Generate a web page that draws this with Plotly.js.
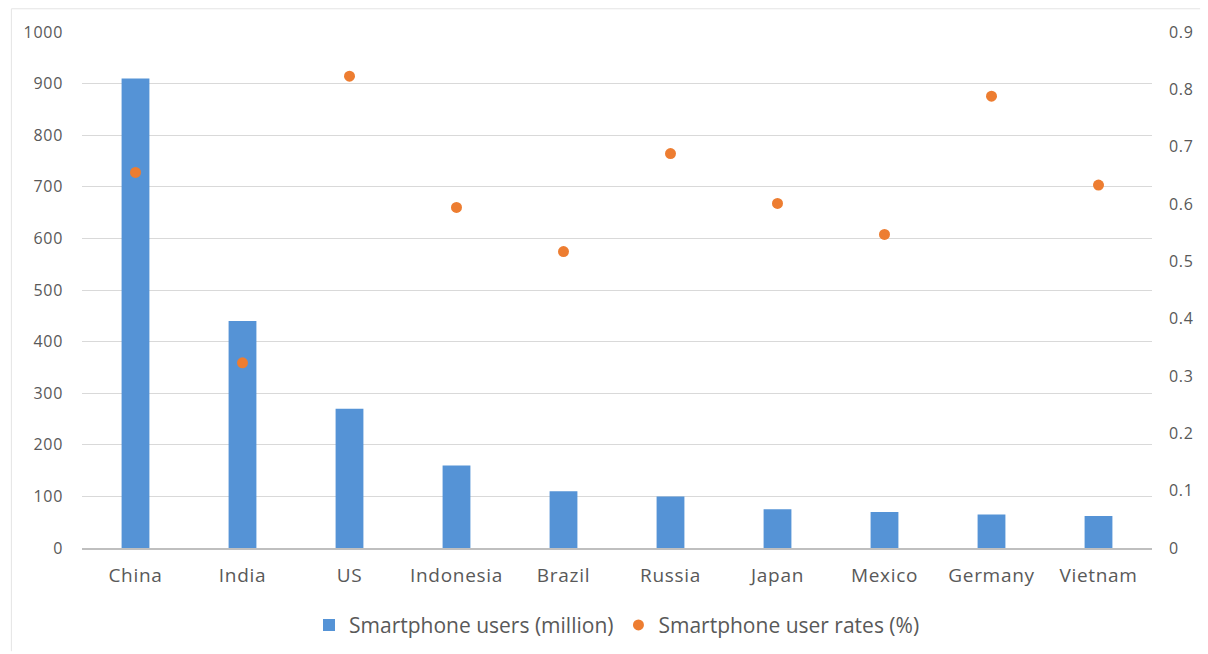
<!DOCTYPE html>
<html>
<head>
<meta charset="utf-8">
<script src="https://cdn.plot.ly/plotly-3.0.1.min.js"></script>
<style>
html,body{margin:0;padding:0;background:#fff;}
#chart{width:1208px;height:654px;}
#chart .xtick text, #chart .ytick text, #chart .y2tick text{letter-spacing:0.7px;}
</style>
</head>
<body>
<div id="chart"></div>
<script>
const countries = ["China","India","US","Indonesia","Brazil","Russia","Japan","Mexico","Germany","Vietnam"];
const users = [910, 440, 270, 160, 110, 100, 75, 70, 65, 62];
const rates = [0.655, 0.323, 0.823, 0.594, 0.517, 0.688, 0.601, 0.547, 0.788, 0.633];
const leftTicks = [0,100,200,300,400,500,600,700,800,900,1000];
const rightTicks = [0,0.1,0.2,0.3,0.4,0.5,0.6,0.7,0.8,0.9];

const FONT = "Open Sans, Lato, sans-serif";
const tickFont = {family: FONT, size: 16, color: "#595959"};

const traces = [
  {
    type: "bar",
    name: "Smartphone users (million)",
    x: countries,
    y: users,
    width: 0.26,
    marker: {color: "#5593d6", line: {width: 0}},
    yaxis: "y",
    hoverinfo: "x+y"
  },
  {
    type: "scatter",
    mode: "markers",
    name: "Smartphone user rates (%)",
    x: countries,
    y: rates,
    marker: {color: "#ED7D31", size: 11, line: {width: 0}},
    yaxis: "y2",
    hoverinfo: "x+y"
  }
];

const layout = {
  width: 1208,
  height: 654,
  paper_bgcolor: "#ffffff",
  plot_bgcolor: "#ffffff",
  margin: {l: 82, r: 56, t: 32, b: 106, autoexpand: false},
  showlegend: true,
  legend: {
    orientation: "h",
    x: 0.5, xanchor: "center",
    y: -0.11, yanchor: "top",
    font: {family: FONT, size: 21, color: "#595959"},
    itemwidth: 30,
    tracegroupgap: 0
  },
  xaxis: {
    type: "category",
    range: [-0.5, 9.5],
    tickfont: {family: FONT, size: 19, color: "#595959"},
    showgrid: false,
    showline: true,
    linecolor: "#bfbfbf",
    linewidth: 1.5,
    ticks: "",
    ticklabelstandoff: 10,
    zeroline: false
  },
  yaxis: {
    range: [0, 1000],
    tickvals: leftTicks,
    ticktext: leftTicks.map(String),
    tickfont: tickFont,
    showgrid: true,
    gridcolor: "#d9d9d9",
    gridwidth: 1,
    zeroline: false,
    showline: false,
    ticks: "",
    ticklabelstandoff: 18
  },
  yaxis2: {
    overlaying: "y",
    side: "right",
    range: [0, 0.9],
    tickvals: rightTicks,
    ticktext: rightTicks.map(v => v === 0 ? "0" : v.toFixed(1)),
    tickfont: tickFont,
    showgrid: false,
    zeroline: false,
    showline: false,
    ticks: "",
    ticklabelstandoff: 16
  },
  shapes: [
    {type: "line", xref: "paper", yref: "paper",
     x0: -0.066, x1: -0.066, y0: -0.2, y1: 1.045,
     line: {color: "#e4e4e4", width: 1}},
    {type: "line", xref: "paper", yref: "paper",
     x0: -0.066, x1: 1.045, y0: 1.045, y1: 1.045,
     line: {color: "#e4e4e4", width: 1}}
  ]
};

Plotly.newPlot("chart", traces, layout, {displayModeBar: false, staticPlot: true});
</script>
</body>
</html>
